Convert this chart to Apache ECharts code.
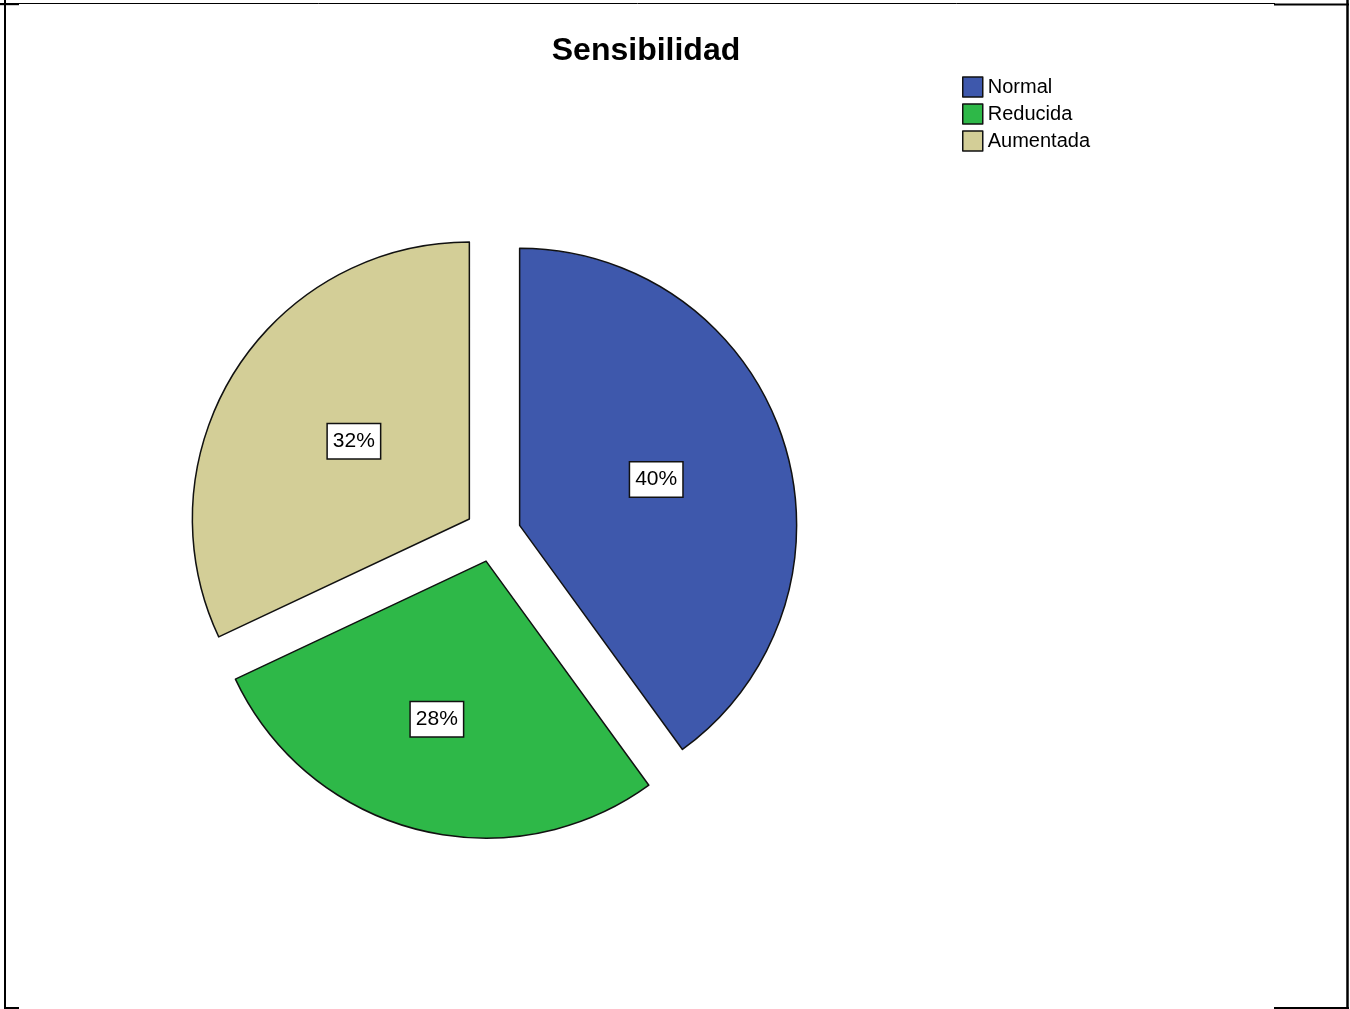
<!DOCTYPE html>
<html>
<head>
<meta charset="utf-8">
<title>Sensibilidad</title>
<script src="https://cdn.jsdelivr.net/npm/echarts@6/dist/echarts.min.js"></script>
<style>
  html, body { margin: 0; padding: 0; background: #fff; }
  #chart { width: 1350px; height: 1009px; }
</style>
</head>
<body>
<div id="chart"></div>
<script>
// Categories and percentages of the "Sensibilidad" variable
const categories = ['Normal', 'Reducida', 'Aumentada'];
const percentages = [40, 28, 32];
const sliceColors = ['#3e58ac', '#2eb848', '#d3ce97'];
// small nudge for the label of the green slice
const labelShifts = [[2, -2], [-14, 21], [4, -2]];

const FONT = "'Liberation Sans', Arial, sans-serif";

const chart = echarts.init(document.getElementById('chart'), null, { renderer: 'canvas' });

const pieData = categories.map((name, i) => ({
  name: name,
  value: percentages[i],
  selected: true,
  itemStyle: { color: sliceColors[i] }
}));

// page frame lines
const frameLines = [
  { x1: 0, y1: 3.5, x2: 1275, y2: 3.5, w: 1 },
  { x1: 0, y1: 4.2, x2: 19, y2: 4.2, w: 2 },
  { x1: 1274, y1: 4.5, x2: 1349, y2: 4.5, w: 2 },
  { x1: 5, y1: 0, x2: 5, y2: 1009, w: 2 },
  { x1: 1347.5, y1: 0, x2: 1347.5, y2: 1009, w: 2.5 },
  { x1: 4, y1: 1008, x2: 19, y2: 1008, w: 2 },
  { x1: 1274, y1: 1008, x2: 1349, y2: 1008, w: 2 }
].map(l => ({
  type: 'line',
  silent: true,
  shape: { x1: l.x1, y1: l.y1, x2: l.x2, y2: l.y2 },
  style: { stroke: '#000', lineWidth: l.w }
}));

chart.setOption({
  animation: false,
  backgroundColor: '#fff',
  title: {
    text: 'Sensibilidad',
    left: 641,
    textAlign: 'center',
    top: 30,
    textStyle: { fontFamily: FONT, fontSize: 32, fontWeight: 'bold', color: '#000' }
  },
  legend: {
    orient: 'vertical',
    left: 957,
    top: 70,
    icon: 'rect',
    itemWidth: 20,
    itemHeight: 20,
    itemGap: 3,
    selectedMode: false,
    data: categories,
    textStyle: { fontFamily: FONT, fontSize: 20, lineHeight: 20, color: '#000', padding: [4, 0, 0, 0] },
    itemStyle: { borderColor: '#111', borderWidth: 1.5 }
  },
  graphic: frameLines,
  series: [{
    type: 'pie',
    center: [493, 534],
    radius: 277,
    startAngle: 90,
    clockwise: true,
    selectedMode: 'multiple',
    selectedOffset: 28,
    avoidLabelOverlap: false,
    itemStyle: { borderColor: '#111', borderWidth: 1.5 },
    emphasis: { scale: false, disabled: true },
    label: {
      show: true,
      position: 'inside',
      formatter: p => p.value + '%',
      fontFamily: FONT,
      fontSize: 21,
      color: '#000',
      backgroundColor: '#fff',
      borderColor: '#111',
      borderWidth: 1.5,
      padding: [7, 5, 6, 5]
    },
    labelLayout: p => ({ dx: labelShifts[p.dataIndex][0], dy: labelShifts[p.dataIndex][1] }),
    labelLine: { show: false },
    data: pieData
  }]
});
</script>
</body>
</html>
